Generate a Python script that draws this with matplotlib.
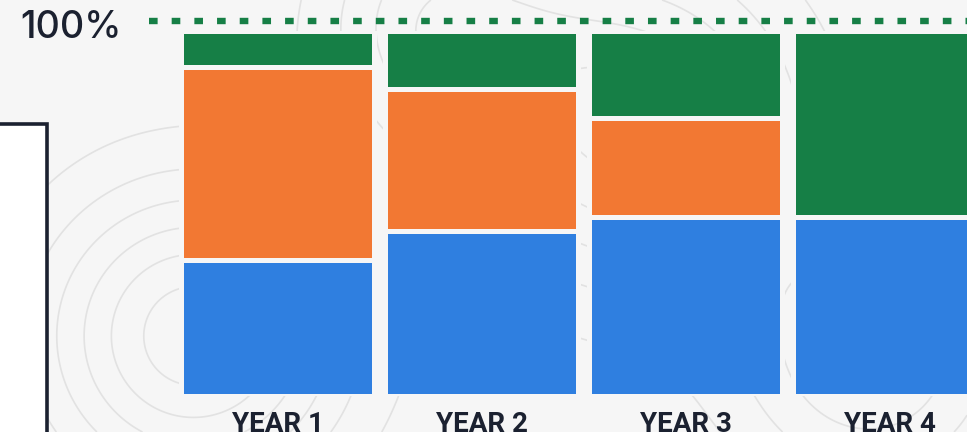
import numpy as np
import matplotlib.pyplot as plt
from matplotlib.patches import Rectangle

# share of each segment per year (percent, bottom to top)
years = ["YEAR 1", "YEAR 2", "YEAR 3", "YEAR 4"]
blue = [37, 45, 49, 49]
orange = [53, 39, 27, 0]
green = [10, 16, 24, 51]

c_blue = "#2f7fe0"
c_orange = "#f27833"
c_green = "#167f46"
bg = "#f6f6f6"
ink = "#1b2130"

W, H = 967, 432
fig = plt.figure(figsize=(W / 100, H / 100), dpi=100, facecolor=bg)

# faint topographic texture in the background
bgax = fig.add_axes([0, 0, 1, 1], zorder=0)
bgax.set_facecolor(bg)
gx, gy = np.meshgrid(np.linspace(0, 10, 400), np.linspace(0, 4.5, 200))
field = (np.exp(-((gx - 2.0) ** 2 + (gy - 1.0) ** 2) / 2.5)
         + 0.8 * np.exp(-((gx - 6.5) ** 2 + (gy - 3.2) ** 2) / 3.0)
         + 0.6 * np.exp(-((gx - 9.0) ** 2 + (gy - 0.8) ** 2) / 2.0)
         + 0.5 * np.exp(-((gx - 4.5) ** 2 + (gy - 4.3) ** 2) / 1.5))
bgax.contour(gx, gy, field, levels=6, colors="#e2e2e2", linewidths=1.2)
bgax.set_xlim(0, 10)
bgax.set_ylim(0, 4.5)
bgax.axis("off")

# bar axes: 0 -> px 395.5, 100 -> px 30.5 ; bar centres every 204 px from 277.5
ax = fig.add_axes([175.5 / W, (H - 395.5) / H, 816 / W, 365 / H], zorder=2)
ax.set_facecolor("none")
x = np.arange(len(years))
bw = 0.95
blue = np.array(blue)
orange = np.array(orange)
green = np.array(green)
ax.bar(x, blue, bw, color=c_blue, edgecolor=bg, linewidth=3.6)
ax.bar(x, orange, bw, bottom=blue, color=c_orange, edgecolor=bg, linewidth=3.6)
ax.bar(x, green, bw, bottom=blue + orange, color=c_green, edgecolor=bg, linewidth=3.6)

# dashed 100% reference line
ax.hlines(102.5, -0.632, 3.7, colors=c_green, linewidth=4.6,
          linestyles=(0, (1.35, 2.2)), clip_on=False)

ax.set_xlim(-0.5, 3.5)
ax.set_ylim(0, 100)
ax.set_xticks(x)
ax.set_xticklabels(years, fontfamily="Roboto", fontweight="bold",
                   fontsize=20, color=ink)
ax.tick_params(axis="x", length=0, pad=11)
ax.set_yticks([])
for s in ax.spines.values():
    s.set_visible(False)

fig.text(20 / W, (H - 38) / H, "100%", fontfamily="Inter", fontweight="medium",
         fontsize=27, color=ink, ha="left", va="baseline")

# framed box cut off at the left edge
fig.patches.append(Rectangle((-20 / W, -20 / H), 66.5 / W, (H - 122 + 20 - 1.5) / H,
                             transform=fig.transFigure, facecolor="white",
                             edgecolor=ink, linewidth=2.6, zorder=1))

fig.savefig("out.png", dpi=100, facecolor=bg)
